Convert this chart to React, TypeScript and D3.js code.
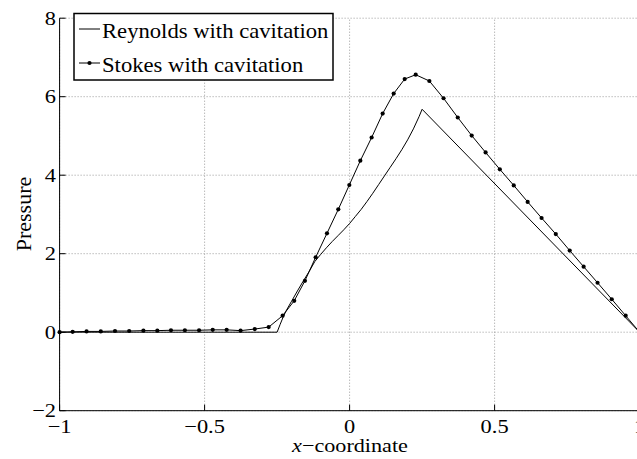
import React from "react";
import * as d3 from "d3";

const stokesX = [-1.0, -0.955, -0.907, -0.858, -0.809, -0.76, -0.711, -0.663, -0.616, -0.568, -0.519, -0.472, -0.424, -0.376, -0.327, -0.279, -0.231, -0.191, -0.154, -0.117, -0.078, -0.039, -0.001, 0.037, 0.076, 0.114, 0.152, 0.19, 0.228, 0.275, 0.324, 0.373, 0.421, 0.469, 0.518, 0.566, 0.614, 0.662, 0.711, 0.759, 0.807, 0.855, 0.904, 0.952, 1.0];
const stokesY = [0.0, 0.01, 0.02, 0.02, 0.03, 0.03, 0.04, 0.04, 0.05, 0.05, 0.05, 0.06, 0.06, 0.04, 0.08, 0.13, 0.42, 0.8, 1.31, 1.91, 2.52, 3.13, 3.75, 4.37, 4.96, 5.57, 6.08, 6.45, 6.56, 6.4, 5.96, 5.47, 5.01, 4.58, 4.15, 3.74, 3.32, 2.91, 2.5, 2.08, 1.67, 1.26, 0.84, 0.42, 0.0];

const reynoldsX = [-1, -0.25, -0.24, -0.23, -0.22, -0.2, -0.18, -0.16, -0.14, -0.12, -0.1, -0.08, -0.06, -0.04, -0.02, 0, 0.02, 0.04, 0.06, 0.08, 0.1, 0.12, 0.14, 0.16, 0.18, 0.2, 0.22, 0.24, 0.25, 1.0];
const reynoldsY = [0, 0, 0.19, 0.37, 0.53, 0.79, 1.05, 1.3, 1.54, 1.8, 1.98, 2.15, 2.31, 2.46, 2.61, 2.77, 2.95, 3.13, 3.33, 3.54, 3.76, 3.98, 4.2, 4.42, 4.65, 4.9, 5.18, 5.5, 5.68, 0];

const xTicks = [-1, -0.5, 0, 0.5, 1];
const xTickLabels = ["\u22121", "\u22120.5", "0", "0.5", "1"];
const yTicks = [-2, 0, 2, 4, 6, 8];
const yTickLabels = ["\u22122", "0", "2", "4", "6", "8"];
const seriesNames = ["Reynolds with cavitation", "Stokes with cavitation"];

const FONT = "'Liberation Serif', 'Times New Roman', serif";
const SX = 1.18;

export default function App() {
  const W = 637, H = 459;
  const x = d3.scaleLinear().domain([-1, 1]).range([59.6, 639.6]);
  const y = d3.scaleLinear().domain([-2, 8]).range([410.7, 18.2]);
  const line = d3.line<[number, number]>().x(d => x(d[0])).y(d => y(d[1]));
  const rey: [number, number][] = reynoldsX.map((v, i) => [v, reynoldsY[i]]);
  const sto: [number, number][] = stokesX.map((v, i) => [v, stokesY[i]]);
  const [x0, x1] = x.range();
  const [yb, yt] = y.range();
  const grid = "#9a9a9a";
  return (
    <svg width={W} height={H} style={{ position: "absolute", left: 0, top: 0, background: "#fff" }} fontFamily={FONT}>
      <rect x={0} y={0} width={W} height={H} fill="#fff" />
      {xTicks.map((t, i) => (
        <line key={"gx" + i} x1={x(t)} x2={x(t)} y1={yb} y2={yt} stroke={grid} strokeWidth={1} strokeDasharray="1,2" />
      ))}
      {yTicks.map((t, i) => (
        <line key={"gy" + i} x1={x0} x2={x1} y1={y(t)} y2={y(t)} stroke={grid} strokeWidth={1} strokeDasharray="1,2" />
      ))}
      <line x1={x0} x2={x0} y1={yb} y2={yt} stroke="#000" strokeWidth={1} />
      <line x1={x0} x2={x1} y1={yb} y2={yb} stroke="#000" strokeWidth={1} />
      {xTicks.map((t, i) => (
        <line key={"tx" + i} x1={x(t)} x2={x(t)} y1={yb} y2={yb - 6} stroke="#000" strokeWidth={1} />
      ))}
      {yTicks.map((t, i) => (
        <line key={"ty" + i} x1={x0} x2={x0 + 6} y1={y(t)} y2={y(t)} stroke="#000" strokeWidth={1} />
      ))}
      {xTicks.map((t, i) => (
        <text key={"lx" + i} transform={`translate(${x(t)},433) scale(${SX},1)`} textAnchor="middle" fontSize={19} fill="#000">{xTickLabels[i]}</text>
      ))}
      {yTicks.map((t, i) => (
        <text key={"ly" + i} transform={`translate(56,${y(t) + 6.5}) scale(${SX},1)`} textAnchor="end" fontSize={19} fill="#000">{yTickLabels[i]}</text>
      ))}
      <text transform={`translate(350,451.5) scale(${SX},1)`} textAnchor="middle" fontSize={18.8} fill="#000">
        <tspan fontStyle="italic">x</tspan>{"\u2212coordinate"}
      </text>
      <text transform={`translate(31,214) rotate(-90)`} textAnchor="middle" fontSize={22} fill="#000">Pressure</text>
      <path d={line(rey) || ""} fill="none" stroke="#000" strokeWidth={1} />
      <path d={line(sto) || ""} fill="none" stroke="#000" strokeWidth={1} />
      {sto.map((d, i) => (
        <circle key={"m" + i} cx={x(d[0])} cy={y(d[1])} r={2.1} fill="#000" />
      ))}
      <rect x={74} y={13.5} width={259} height={66.5} fill="#fff" stroke="#000" strokeWidth={1.5} />
      <line x1={79} x2={100} y1={29} y2={29} stroke="#000" strokeWidth={1} />
      <text transform={`translate(102,38) scale(1.1,1)`} fontSize={20.6} fill="#000">{seriesNames[0]}</text>
      <line x1={79} x2={100} y1={63} y2={63} stroke="#000" strokeWidth={1} />
      <circle cx={89.5} cy={63} r={2.1} fill="#000" />
      <text transform={`translate(102,72) scale(1.1,1)`} fontSize={20.6} fill="#000">{seriesNames[1]}</text>
    </svg>
  );
}
